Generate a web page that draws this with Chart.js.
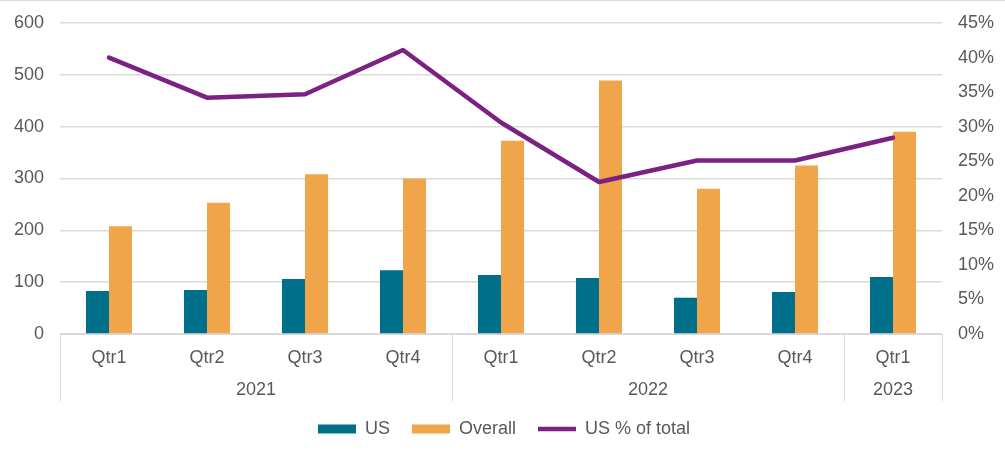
<!DOCTYPE html>
<html>
<head>
<meta charset="utf-8">
<script src="https://cdn.jsdelivr.net/npm/chart.js@4.4.1/dist/chart.umd.min.js"></script>
<style>
    html, body { margin: 0; padding: 0; background: #fff; }
    #wrap { width: 1005px; height: 456px; box-sizing: border-box; border-top: 1px solid #d9d9d9; }
</style>
</head>
<body>
<div id="wrap"><canvas id="chart"></canvas></div>
<script>
// --- datos ---
const quarters = ['Qtr1', 'Qtr2', 'Qtr3', 'Qtr4', 'Qtr1', 'Qtr2', 'Qtr3', 'Qtr4', 'Qtr1'];
const yearLabels = ['2021', '2022', '2023'];
const yearSpans = [4, 4, 1];
const usValues = [83, 85, 106, 123, 114, 108, 70, 81, 110];
const overallValues = [208, 253, 308, 300, 373, 489, 280, 325, 390];
const usShare = [40.0, 34.2, 34.7, 41.1, 30.6, 22.0, 25.1, 25.1, 28.4];

const fontFamily = '"Liberation Sans", Arial, sans-serif';
Chart.defaults.font.family = fontFamily;
Chart.defaults.font.size = 18;
Chart.defaults.color = '#595959';

// years under the quarters, with separators
const yearRow = {
    id: 'yearRow',
    afterDraw(chart) {
        const x = chart.scales.x;
        const ctx = chart.ctx;
        const step = (x.right - x.left) / quarters.length;
        const top = x.top;
        const bottom = x.top + 67;
        ctx.save();
        ctx.strokeStyle = '#d9d9d9';
        ctx.lineWidth = 1;
        ctx.fillStyle = '#595959';
        ctx.font = '18px ' + fontFamily;
        ctx.textAlign = 'center';
        ctx.textBaseline = 'middle';
        let start = 0;
        const edges = [0];
        yearSpans.forEach(function (n, i) {
            const left = x.left + start * step;
            const right = x.left + (start + n) * step;
            ctx.fillText(yearLabels[i], (left + right) / 2, top + 56);
            start += n;
            edges.push(start);
        });
        edges.forEach(function (e) {
            const px = Math.round(x.left + e * step) + 0.5;
            ctx.beginPath();
            ctx.moveTo(px, top);
            ctx.lineTo(px, bottom);
            ctx.stroke();
        });
        ctx.restore();
    }
};

// fixed axis width, no extra top/bottom padding from the tick labels
function fixWidth(w) {
    return function (scale) {
        scale.width = w;
        scale.paddingTop = 0;
        scale.paddingBottom = 0;
    };
}

new Chart(document.getElementById('chart').getContext('2d'), {
    type: 'bar',
    data: {
        labels: quarters,
        datasets: [{
            label: 'US',
            data: usValues,
            backgroundColor: '#006F8A',
            pointStyle: 'rect',
            yAxisID: 'y',
            order: 1,
            categoryPercentage: 0.47,
            barPercentage: 1.0
        }, {
            label: 'Overall',
            data: overallValues,
            backgroundColor: '#F0A54A',
            pointStyle: 'rect',
            yAxisID: 'y',
            order: 1,
            categoryPercentage: 0.47,
            barPercentage: 1.0
        }, {
            type: 'line',
            label: 'US % of total',
            data: usShare,
            borderColor: '#7B2183',
            backgroundColor: '#7B2183',
            borderWidth: 4.5,
            borderCapStyle: 'round',
            borderJoinStyle: 'round',
            pointRadius: 0,
            pointStyle: 'line',
            tension: 0,
            yAxisID: 'y1',
            order: 0
        }]
    },
    options: {
        responsive: true,
        maintainAspectRatio: false,
        animation: false,
        layout: {
            padding: { top: 22, left: 14, right: 11, bottom: 8 }
        },
        plugins: {
            legend: {
                position: 'bottom',
                labels: {
                    usePointStyle: true,
                    pointStyleWidth: 38,
                    boxHeight: 9,
                    padding: 22,
                    color: '#595959',
                    sort: function (a, b) { return a.datasetIndex - b.datasetIndex; }
                }
            },
            tooltip: { enabled: false }
        },
        scales: {
            x: {
                grid: { display: false },
                border: { color: '#d9d9d9' },
                ticks: { padding: 5, autoSkip: false, maxRotation: 0 },
                afterFit: function (scale) { scale.height = 64; }
            },
            y: {
                min: 0,
                max: 600,
                ticks: { stepSize: 100, padding: 16 },
                grid: { color: '#d9d9d9', drawTicks: false, lineWidth: 1.5 },
                border: { display: false },
                afterFit: fixWidth(46)
            },
            y1: {
                position: 'right',
                min: 0,
                max: 45,
                ticks: {
                    stepSize: 5,
                    padding: 16,
                    callback: function (v) { return v + '%'; }
                },
                grid: { drawOnChartArea: false, drawTicks: false },
                border: { display: false },
                afterFit: fixWidth(52)
            }
        }
    },
    plugins: [yearRow]
});
</script>
</body>
</html>
